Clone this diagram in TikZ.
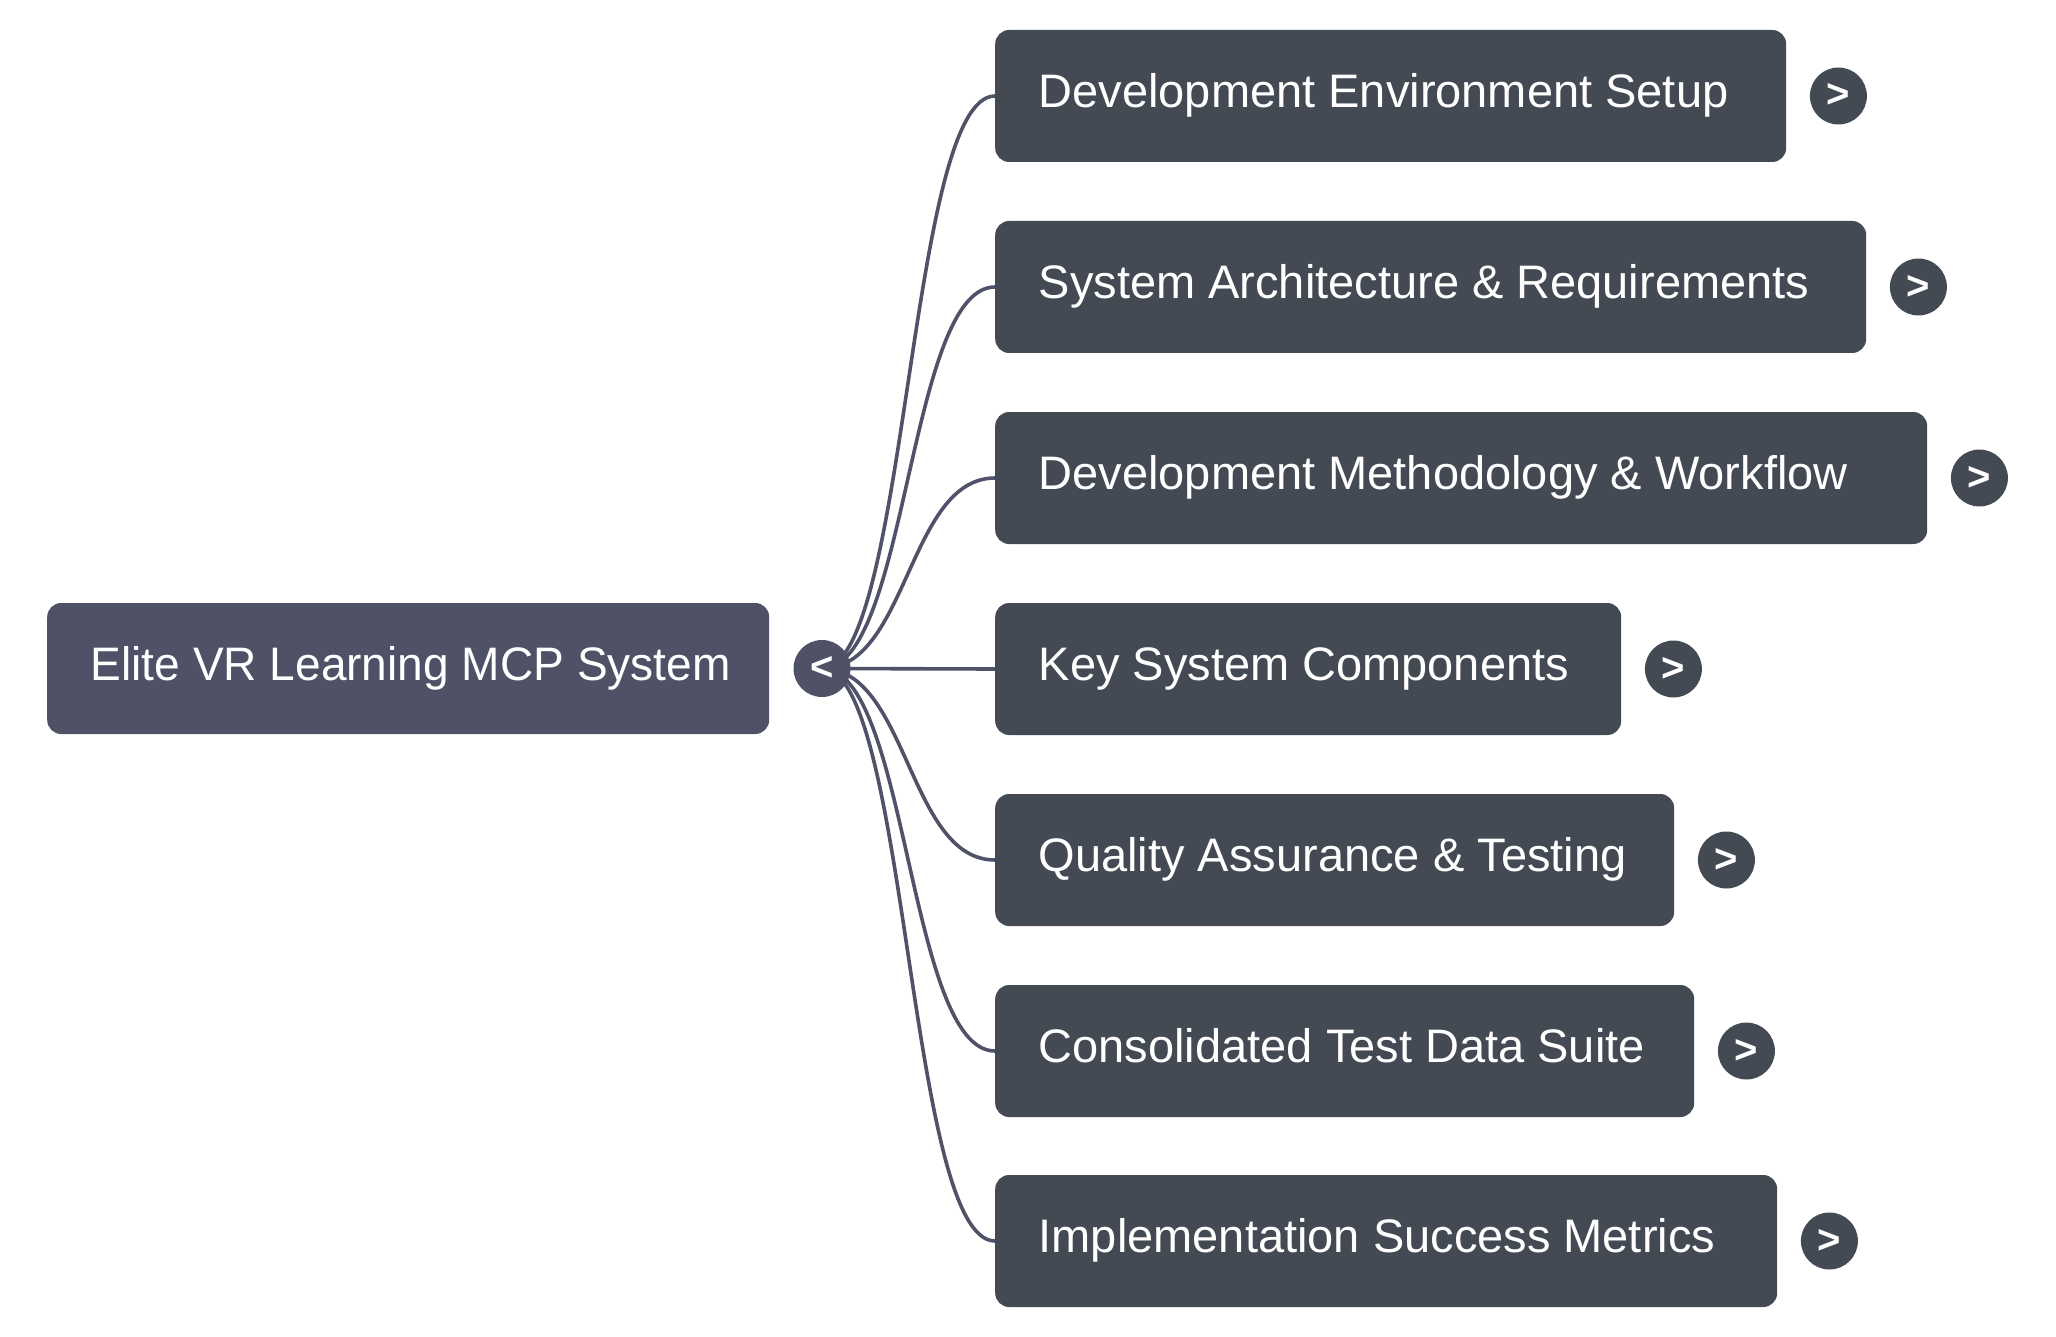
\documentclass[tikz,border=0pt]{standalone}
\usepackage{fontspec}
\setmainfont{Liberation Sans}
\usetikzlibrary{backgrounds}
\definecolor{rootc}{HTML}{4F5166}
\definecolor{childc}{HTML}{434A54}
\definecolor{linkc}{HTML}{4F5268}
\newcommand\boxfont{\fontsize{47}{56}\selectfont}
\newcommand\togfont{\fontsize{40}{46}\selectfont\bfseries}
\newcommand\lbox[2]{\makebox[#1pt][l]{#2}}
\begin{document}
\begin{tikzpicture}[x=1pt,y=-1pt,
  rootbox/.style={fill=rootc, rounded corners=14pt, text=white, font=\boxfont,
    minimum height=131pt, inner xsep=43.5pt, inner ysep=0pt, anchor=west,
    text height=35pt, text depth=12pt},
  childbox/.style={rootbox, fill=childc, minimum height=132pt},
  toggle/.style={circle, minimum size=57pt, inner sep=0pt, text=white, font=\togfont},
  link/.style={draw=linkc, line width=3.6pt}]
\useasboundingbox (0,0) rectangle (2056,1337);

\node[rootbox] (root) at (47,668.5) {\lbox{635}{\scalebox{0.98}[1]{Elite VR Learning MCP System}}};
\node[toggle, fill=rootc] (col) at (822,668.5) {<};

\node[childbox] (n1) at (995,96)   {\lbox{704}{Development Environment Setup}};
\node[childbox] (n2) at (995,287)  {\lbox{784}{System Architecture \& Requirements}};
\node[childbox] (n3) at (995,478)  {\lbox{845}{Development Methodology \& Workflow}};
\node[childbox] (n4) at (995,669)  {\lbox{539}{Key System Components}};
\node[childbox] (n5) at (995,860)  {\lbox{592}{Quality Assurance \& Testing}};
\node[childbox] (n6) at (995,1051) {\lbox{612}{Consolidated Test Data Suite}};
\node[childbox] (n7) at (995,1241) {\lbox{695}{Implementation Success Metrics}};

\foreach \i in {1,...,7}{
  \node[toggle, fill=childc] (e\i) at ([xshift=52pt]n\i.east) {>};
}

\begin{pgfonlayer}{background}
\foreach \i in {1,...,7}{
  \draw[link] (col.center) .. controls +(86,0) and +(-87,0) .. (n\i.west);
}
\end{pgfonlayer}
\end{tikzpicture}
\end{document}
